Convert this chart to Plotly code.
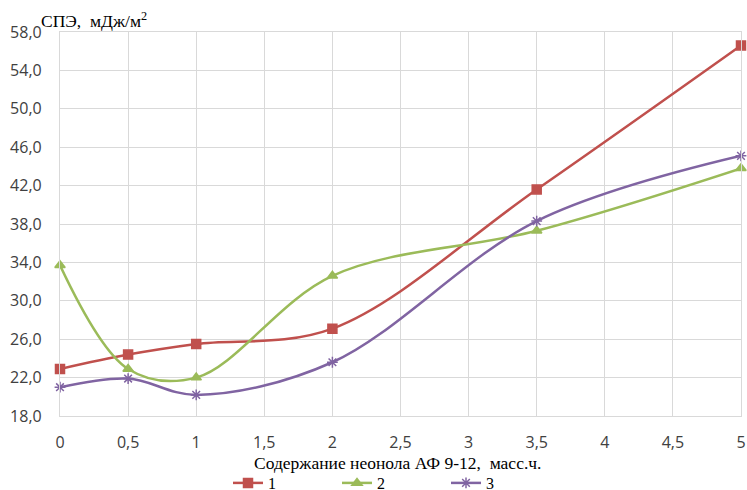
import plotly.graph_objects as go

x_vals = [0, 0.5, 1, 2, 3.5, 5]
series1 = [22.9, 24.4, 25.5, 27.1, 41.6, 56.6]
series2 = [33.7, 22.9, 22.0, 32.6, 37.3, 43.8]
series3 = [21.0, 21.9, 20.2, 23.6, 38.3, 45.1]
names = ["1", "2", "3"]
x_ticks = [0, 0.5, 1, 1.5, 2, 2.5, 3, 3.5, 4, 4.5, 5]
x_ticktext = ["0", "0,5", "1", "1,5", "2", "2,5", "3", "3,5", "4", "4,5", "5"]
y_ticks = [18, 22, 26, 30, 34, 38, 42, 46, 50, 54, 58]
y_ticktext = ["18,0", "22,0", "26,0", "30,0", "34,0", "38,0", "42,0", "46,0", "50,0", "54,0", "58,0"]

colors = ["#C0504D", "#9BBB59", "#8064A2"]
symbols = ["square", "triangle-up", "asterisk-open"]

fig = go.Figure()
for s, n, c, sym in zip([series1, series2, series3], names, colors, symbols):
    fig.add_trace(go.Scatter(
        x=x_vals, y=s, name=n, mode="lines+markers", cliponaxis=False,
        line=dict(color=c, width=2.5, shape="spline", smoothing=1.0),
        marker=dict(symbol=sym, size=9, color=c, line=dict(color=c, width=1.5)),
    ))

fig.update_layout(
    width=747, height=490,
    margin=dict(l=60, r=6, t=32, b=74, autoexpand=False),
    paper_bgcolor="white", plot_bgcolor="white",
    showlegend=True,
    legend=dict(orientation="h", xref="container", yref="container",
                x=228 / 747, xanchor="left", y=7 / 490, yanchor="middle",
                font=dict(family="Liberation Serif", size=16, color="#000000"),
                entrywidth=64, tracegroupgap=0, itemwidth=30,
                bgcolor="rgba(0,0,0,0)"),
    xaxis=dict(range=[0, 5], tickvals=x_ticks, ticktext=x_ticktext,
               showgrid=True, gridcolor="#D9D9D9", gridwidth=1.2,
               showline=True, mirror=True, linecolor="#D9D9D9", linewidth=1.2,
               zeroline=False, ticks="", ticklabelstandoff=12, automargin=False,
               ticklabeloverflow="allow",
               tickfont=dict(family="Open Sans", size=16, color="#404040")),
    yaxis=dict(range=[18, 58], tickvals=y_ticks, ticktext=y_ticktext,
               showgrid=True, gridcolor="#D9D9D9", gridwidth=1.2,
               showline=True, mirror=True, linecolor="#D9D9D9", linewidth=1.2,
               zeroline=False, ticks="", ticklabelstandoff=14, automargin=False,
               tickfont=dict(family="Open Sans", size=16, color="#404040")),
)
fig.add_annotation(text="СПЭ,  мДж/м<sup>2</sup>", xref="paper", yref="paper",
                   x=-21 / 681, y=1.0 + 12 / 384, xanchor="left", yanchor="middle",
                   showarrow=False,
                   font=dict(family="Liberation Serif", size=17.5, color="#000000"))
fig.add_annotation(text="Содержание неонола АФ 9-12,  масс.ч.", xref="paper", yref="paper",
                   x=(397 - 60) / 681, y=-47 / 384, xanchor="center", yanchor="middle",
                   showarrow=False,
                   font=dict(family="Liberation Serif", size=17.5, color="#000000"))

fig.write_html("out.html", config={"displayModeBar": False},
               post_script="document.body.style.margin='0';document.body.style.overflow='hidden';")
